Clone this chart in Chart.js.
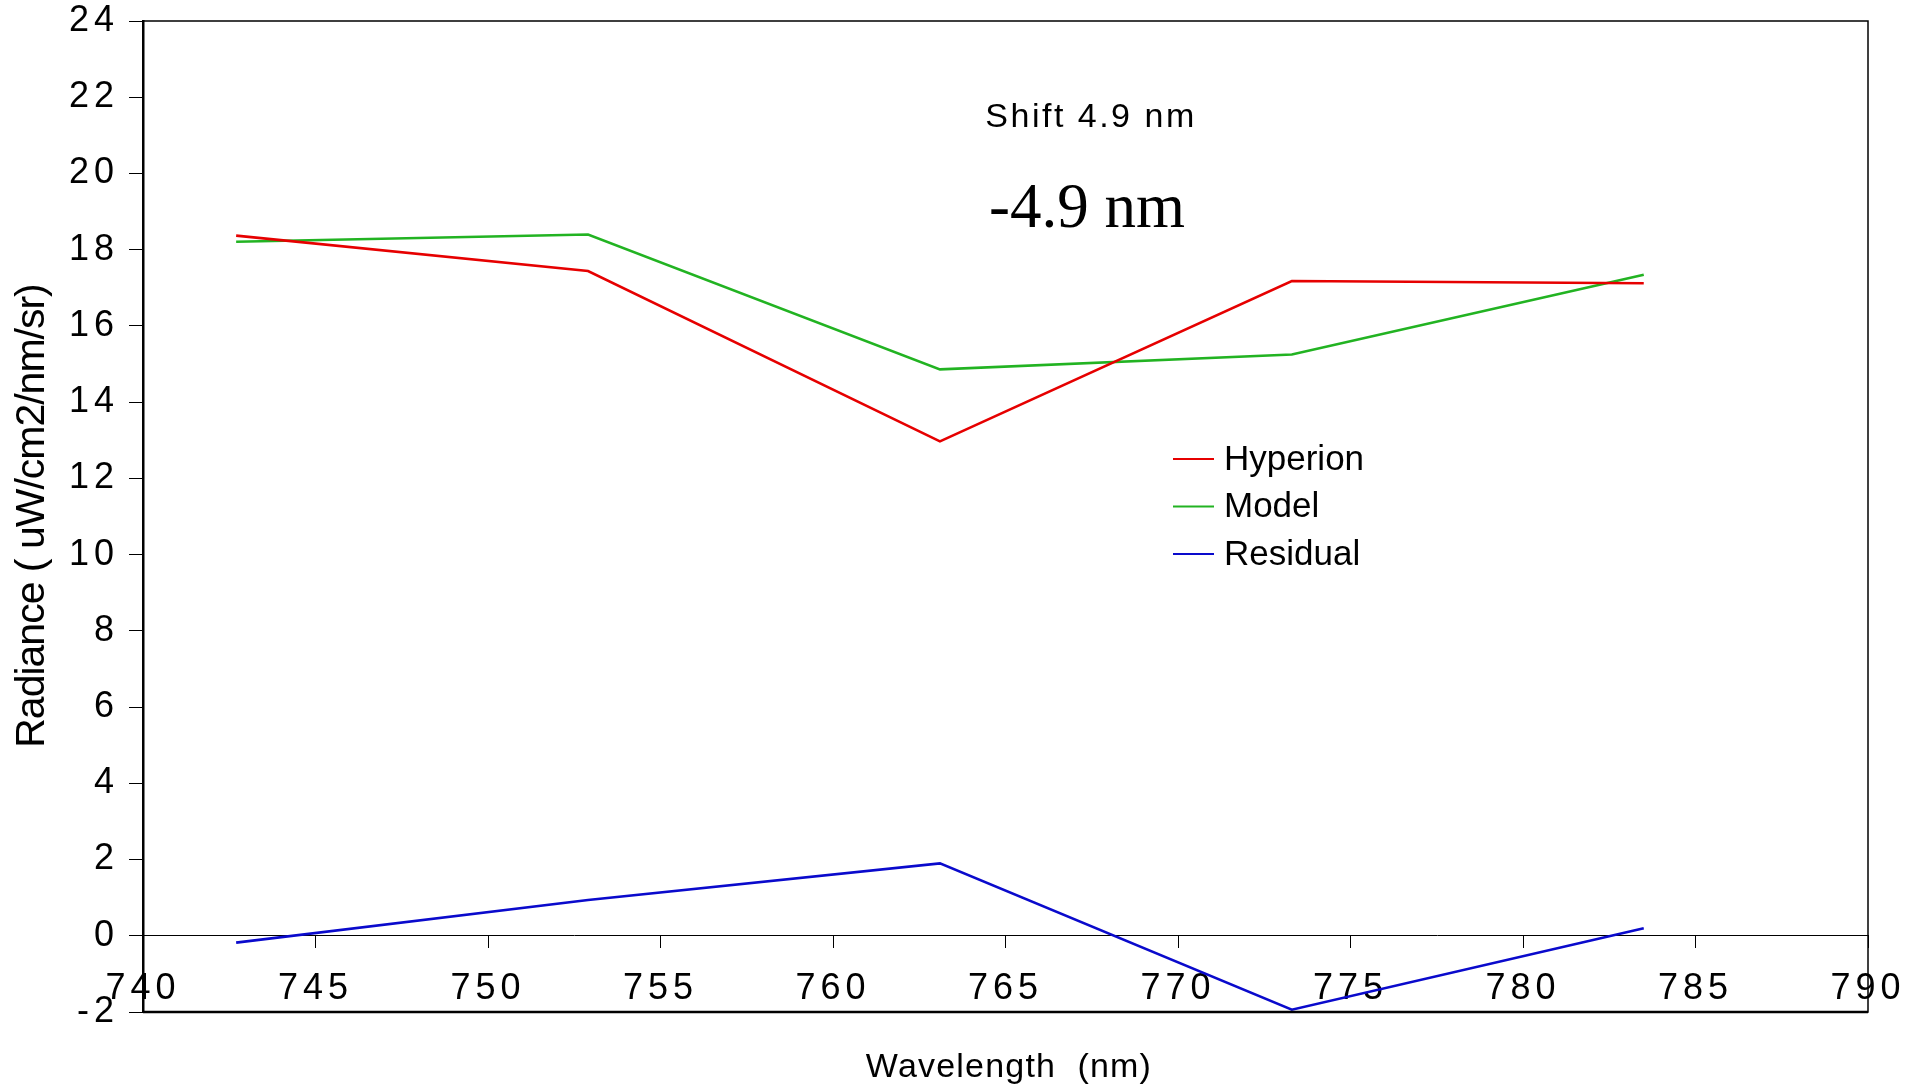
<!DOCTYPE html>
<html>
<head>
<meta charset="utf-8">
<script src="https://cdn.jsdelivr.net/npm/chart.js@4/dist/chart.umd.min.js"></script>
<style>
  html, body { margin: 0; padding: 0; background: #fff; }
  canvas { display: block; }
</style>
</head>
<body>
<canvas id="c" width="1923" height="1092"></canvas>
<script>
'use strict';
// Hyperion vs modele, bande O2-A, decalage -4.9 nm
const wavelengths = [742.7, 752.9, 763.1, 773.3, 783.5];
const hyperion = [18.37, 17.44, 12.97, 17.18, 17.12];
const model = [18.21, 18.40, 14.86, 15.25, 17.34];
const residual = [-0.18, 0.94, 1.90, -1.94, 0.20];
const SERIES = [
  { label: 'Hyperion', data: hyperion, color: '#e60000' },
  { label: 'Model', data: model, color: '#22b322' },
  { label: 'Residual', data: residual, color: '#0a0acc' },
];
const pts = arr => arr.map((v, i) => ({ x: wavelengths[i], y: v }));
const SANS = '"Liberation Sans", Arial, sans-serif';

// cadre + textes + legende dans la zone du graphe
const deco = {
  id: 'deco',
  beforeLayout: c => { c.ctx.letterSpacing = '5px'; },
  beforeDraw: c => { c.ctx.letterSpacing = '5px'; },
  afterDraw(c) {
    const ctx = c.ctx, a = c.chartArea;
    ctx.save();
    ctx.letterSpacing = '0px';
    ctx.strokeStyle = '#000';
    ctx.lineWidth = 1.5;
    ctx.strokeRect(a.left, a.top, a.right - a.left, a.bottom - a.top);
    ctx.lineWidth = 2.5;
    ctx.beginPath(); ctx.moveTo(a.left, a.bottom); ctx.lineTo(a.right, a.bottom); ctx.stroke();
    ctx.fillStyle = '#000';
    // annotations
    ctx.textAlign = 'center'; ctx.textBaseline = 'alphabetic';
    ctx.letterSpacing = '2.5px';
    ctx.font = '34px ' + SANS;
    ctx.fillText('Shift 4.9 nm', 1091, 127);
    ctx.letterSpacing = '0px';
    ctx.font = '63px "Liberation Serif", "Times New Roman", serif';
    ctx.fillText('-4.9 nm', 1087, 227);
    // legende
    ctx.textAlign = 'left'; ctx.textBaseline = 'middle';
    ctx.font = '35px ' + SANS;
    SERIES.forEach((s, i) => {
      const y = 459 + i * 47.5;
      ctx.strokeStyle = s.color; ctx.lineWidth = 2;
      ctx.beginPath(); ctx.moveTo(1173, y); ctx.lineTo(1214, y); ctx.stroke();
      ctx.fillText(s.label, 1224, y + 1);
    });
    // titres d'axes
    ctx.letterSpacing = '1.2px';
    ctx.font = '34px ' + SANS;
    ctx.textAlign = 'center';
    ctx.fillText('Wavelength  (nm)', 1009, 1068);
    ctx.translate(33, 516); ctx.rotate(-Math.PI / 2);
    ctx.letterSpacing = '-1px';
    ctx.font = '41px ' + SANS;
    ctx.fillText('Radiance ( uW/cm2/nm/sr)', 0, 0);
    ctx.restore();
  }
};

new Chart(document.getElementById('c'), {
  type: 'scatter',
  data: {
    datasets: SERIES.map(s => ({
      label: s.label, data: pts(s.data), showLine: true,
      borderColor: s.color, backgroundColor: s.color,
      borderWidth: 2.6, pointRadius: 0, tension: 0,
    })),
  },
  options: {
    responsive: false, animation: false,
    layout: { padding: { top: 21, right: 55, bottom: 80, left: 0 } },
    plugins: { legend: { display: false }, tooltip: { enabled: false } },
    scales: {
      x: {
        type: 'linear', min: 740, max: 790, position: { y: 0 },
        afterFit: s => { s.paddingLeft = 0; s.paddingRight = 0; },
        grid: { drawOnChartArea: false, tickLength: 12, color: '#000', lineWidth: 1 },
        border: { display: true, color: '#000', width: 1 },
        ticks: { stepSize: 5, color: '#000', padding: 20, maxRotation: 0, autoSkip: false, font: { family: SANS, size: 36 } },
      },
      y: {
        min: -2, max: 24,
        afterFit: s => { s.width = 143; s.paddingTop = 0; s.paddingBottom = 0; },
        grid: { drawOnChartArea: false, tickLength: 14, color: '#000', lineWidth: 1 },
        border: { display: true, color: '#000', width: 2.5 },
        ticks: { stepSize: 2, color: '#000', padding: 10, font: { family: SANS, size: 36 } },
      },
    },
  },
  plugins: [deco],
});
</script>
</body>
</html>
